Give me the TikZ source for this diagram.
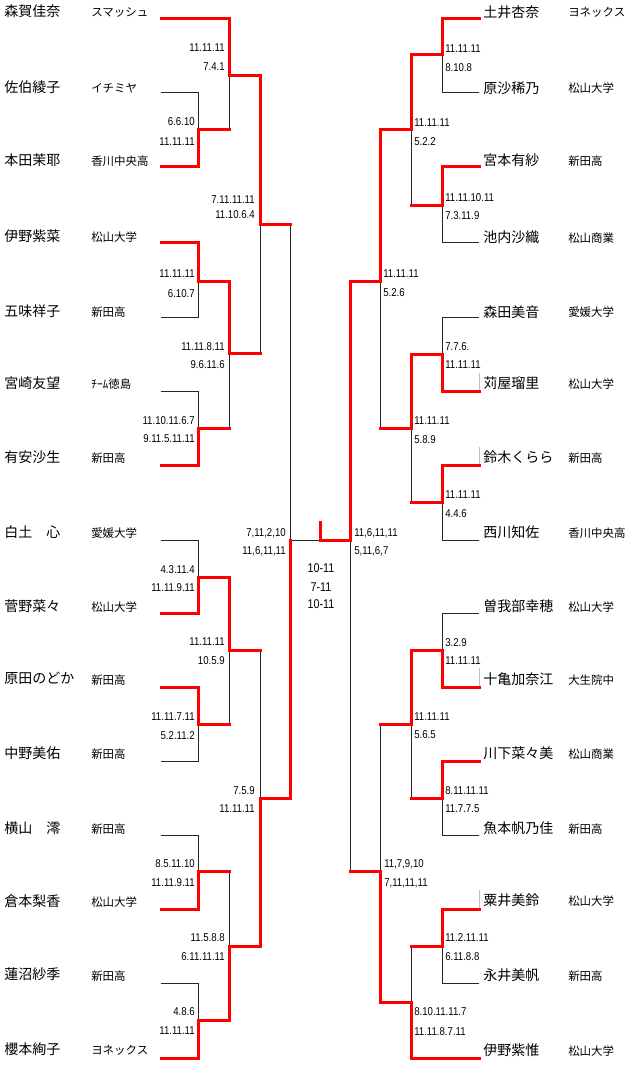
\documentclass[tikz,border=0pt]{standalone}
\usepackage{fontspec}
\newfontfamily\jpfont{Noto Sans CJK JP}
\newfontfamily\numfont[FakeStretch=0.85]{Liberation Sans}
\begin{document}
\begin{tikzpicture}[x=0.75pt,y=-0.75pt,
  pname/.style={font=\jpfont\fontsize{10.5}{12}\selectfont,anchor=west,inner sep=0pt,text height=8.4pt,text depth=0.5pt},
  pclub/.style={font=\jpfont\fontsize{8.6}{10}\selectfont,anchor=west,inner sep=0pt,text height=6.9pt,text depth=0.4pt},
  scl/.style={font=\numfont\fontsize{8.5}{10}\selectfont,anchor=east,inner sep=0pt,text height=6.1pt,text depth=0pt},
  scr/.style={font=\numfont\fontsize{8.5}{10}\selectfont,anchor=west,inner sep=0pt,text height=6.1pt,text depth=0pt},
  scc/.style={font=\numfont\fontsize{9.5}{11}\selectfont,anchor=center,inner sep=0pt,text height=6.8pt,text depth=0pt},
  lose/.style={draw=black!85,line width=0.75pt},
  win/.style={draw=red,line width=2.25pt,line join=miter,line cap=rect},
  artf/.style={draw=black!25,line width=0.5pt}]
\useasboundingbox (0,0) rectangle (640,1077);

% ---------- left players ----------
\node[pname] (nL0)  at (4,11)   {森賀佳奈};   \node[pclub] (cL0)  at (91,12)   {スマッシュ};
\node[pname] (nL1)  at (4,87)   {佐伯綾子};   \node[pclub] (cL1)  at (91,88)   {イチミヤ};
\node[pname] (nL2)  at (4,160)  {本田茉耶};   \node[pclub] (cL2)  at (91,161)  {香川中央高};
\node[pname] (nL3)  at (4,236)  {伊野紫菜};   \node[pclub] (cL3)  at (91,237)  {松山大学};
\node[pname] (nL4)  at (4,311)  {五味祥子};   \node[pclub] (cL4)  at (91,312)  {新田高};
\node[pname] (nL5)  at (4,383)  {宮崎友望};   \node[pclub] (cL5)  at (91,384)  {ﾁｰﾑ徳島};
\node[pname] (nL6)  at (4,457)  {有安沙生};   \node[pclub] (cL6)  at (91,458)  {新田高};
\node[pname] (nL7)  at (4,532)  {白土　心};   \node[pclub] (cL7)  at (91,533)  {愛媛大学};
\node[pname] (nL8)  at (4,606)  {菅野菜々};   \node[pclub] (cL8)  at (91,607)  {松山大学};
\node[pname] (nL9)  at (4,678)  {原田のどか}; \node[pclub] (cL9)  at (91,680)  {新田高};
\node[pname] (nL10) at (4,753)  {中野美佑};   \node[pclub] (cL10) at (91,754)  {新田高};
\node[pname] (nL11) at (4,828)  {横山　澪};   \node[pclub] (cL11) at (91,829)  {新田高};
\node[pname] (nL12) at (4,901)  {倉本梨香};   \node[pclub] (cL12) at (91,902)  {松山大学};
\node[pname] (nL13) at (4,974)  {蓮沼紗季};   \node[pclub] (cL13) at (91,976)  {新田高};
\node[pname] (nL14) at (4,1049) {櫻本絢子};   \node[pclub] (cL14) at (91,1050) {ヨネックス};

% ---------- right players ----------
\node[pname] (nR0)  at (483,12)   {土井杏奈};   \node[pclub] (cR0)  at (568,12)   {ヨネックス};
\node[pname] (nR1)  at (483,88)   {原沙稀乃};   \node[pclub] (cR1)  at (568,88)   {松山大学};
\node[pname] (nR2)  at (483,160)  {宮本有紗};   \node[pclub] (cR2)  at (568,161)  {新田高};
\node[pname] (nR3)  at (483,237)  {池内沙織};   \node[pclub] (cR3)  at (568,238)  {松山商業};
\node[pname] (nR4)  at (483,312)  {森田美音};   \node[pclub] (cR4)  at (568,312)  {愛媛大学};
\node[pname] (nR5)  at (483,383)  {苅屋瑠里};   \node[pclub] (cR5)  at (568,384)  {松山大学};
\node[pname] (nR6)  at (483,457)  {鈴木くらら}; \node[pclub] (cR6)  at (568,458)  {新田高};
\node[pname] (nR7)  at (483,532)  {西川知佐};   \node[pclub] (cR7)  at (568,533)  {香川中央高};
\node[pname] (nR8)  at (483,606)  {曽我部幸穂}; \node[pclub] (cR8)  at (568,607)  {松山大学};
\node[pname] (nR9)  at (483,679)  {十亀加奈江}; \node[pclub] (cR9)  at (568,680)  {大生院中};
\node[pname] (nR10) at (483,753)  {川下菜々美}; \node[pclub] (cR10) at (568,754)  {松山商業};
\node[pname] (nR11) at (483,828)  {魚本帆乃佳}; \node[pclub] (cR11) at (568,829)  {新田高};
\node[pname] (nR12) at (483,900)  {粟井美鈴};   \node[pclub] (cR12) at (568,901)  {松山大学};
\node[pname] (nR13) at (483,975)  {永井美帆};   \node[pclub] (cR13) at (568,976)  {新田高};
\node[pname] (nR14) at (483,1050) {伊野紫惟};   \node[pclub] (cR14) at (568,1051) {松山大学};

% ---------- line ends ----------
\foreach \i/\y in {0/19,1/93,2/167,3/242,4/317,5/391,6/465,7/540,8/613,9/687,10/761,11/835,12/909,13/983,14/1058}{
  \coordinate (aL\i) at (161,\y);
  \coordinate (aR\i) at (479,\y);
}
% ---------- junctions ----------
\coordinate (mL1) at (198,130);  \coordinate (mL2) at (229,76);
\coordinate (mL3) at (198,281);  \coordinate (mL4) at (198,428);
\coordinate (mL5) at (229,353);  \coordinate (mL6) at (260,224);
\coordinate (mL7) at (198,577);  \coordinate (mL8) at (198,724);
\coordinate (mL9) at (229,650);  \coordinate (mL10) at (198,871);
\coordinate (mL11) at (198,1020);\coordinate (mL12) at (229,946);
\coordinate (mL13) at (260,798); \coordinate (mSL) at (290,540);
\coordinate (mR1) at (442,55);   \coordinate (mR2) at (442,205);
\coordinate (mR3) at (411,130);  \coordinate (mR4) at (442,354);
\coordinate (mR5) at (442,502);  \coordinate (mR6) at (411,428);
\coordinate (mR7) at (380,281);  \coordinate (mR8) at (442,650);
\coordinate (mR9) at (442,798);  \coordinate (mR10) at (411,724);
\coordinate (mR11) at (442,946); \coordinate (mR12) at (411,1002);
\coordinate (mR13) at (380,871); \coordinate (mSR) at (350,540);
\coordinate (mFin) at (320,540); \coordinate (tick) at (320,522);

% ---------- full bracket (black) ----------
\draw[lose] (aL0) -| (mL2);
\draw[lose] (aL1) -| (mL1); \draw[lose] (aL2) -| (mL1);
\draw[lose] (mL1) -| (mL2);
\draw[lose] (aL3) -| (mL3); \draw[lose] (aL4) -| (mL3);
\draw[lose] (aL5) -| (mL4); \draw[lose] (aL6) -| (mL4);
\draw[lose] (mL3) -| (mL5); \draw[lose] (mL4) -| (mL5);
\draw[lose] (mL2) -| (mL6); \draw[lose] (mL5) -| (mL6);
\draw[lose] (mL6) -| (mSL);
\draw[lose] (aL7) -| (mL7); \draw[lose] (aL8) -| (mL7);
\draw[lose] (aL9) -| (mL8); \draw[lose] (aL10) -| (mL8);
\draw[lose] (mL7) -| (mL9); \draw[lose] (mL8) -| (mL9);
\draw[lose] (aL11) -| (mL10); \draw[lose] (aL12) -| (mL10);
\draw[lose] (aL13) -| (mL11); \draw[lose] (aL14) -| (mL11);
\draw[lose] (mL10) -| (mL12); \draw[lose] (mL11) -| (mL12);
\draw[lose] (mL9) -| (mL13); \draw[lose] (mL12) -| (mL13);
\draw[lose] (mL13) -| (mSL);
\draw[lose] (mSL) -- (mSR);
\draw[lose] (aR0) -| (mR1); \draw[lose] (aR1) -| (mR1);
\draw[lose] (aR2) -| (mR2); \draw[lose] (aR3) -| (mR2);
\draw[lose] (mR1) -| (mR3); \draw[lose] (mR2) -| (mR3);
\draw[lose] (aR4) -| (mR4); \draw[lose] (aR5) -| (mR4);
\draw[lose] (aR6) -| (mR5); \draw[lose] (aR7) -| (mR5);
\draw[lose] (mR4) -| (mR6); \draw[lose] (mR5) -| (mR6);
\draw[lose] (mR3) -| (mR7); \draw[lose] (mR6) -| (mR7);
\draw[lose] (mR7) -| (mSR);
\draw[lose] (aR8) -| (mR8); \draw[lose] (aR9) -| (mR8);
\draw[lose] (aR10) -| (mR9); \draw[lose] (aR11) -| (mR9);
\draw[lose] (mR8) -| (mR10); \draw[lose] (mR9) -| (mR10);
\draw[lose] (aR12) -| (mR11); \draw[lose] (aR13) -| (mR11);
\draw[lose] (mR11) -| (mR12); \draw[lose] (aR14) -| (mR12);
\draw[lose] (mR10) -| (mR13); \draw[lose] (mR12) -| (mR13);
\draw[lose] (mR13) -| (mSR);

% ---------- faint artefacts ----------
\draw[artf] (479,373) -- (479,391);
\draw[artf] (479,447) -- (479,465);
\draw[artf] (479,668) -- (479,687);
\draw[artf] (479,890) -- (479,909);

% ---------- winners (red) ----------
\draw[win] (aL0) -| (mL2) -| (mL6) -- (mL6 -| mSL);
\draw[win] (aL2) -| (mL1) -- (mL1 -| mL2);
\draw[win] (aL3) -| (mL3) -| (mL5) -- (mL5 -| mL6);
\draw[win] (aL6) -| (mL4) -- (mL4 -| mL5);
\draw[win] (aL8) -| (mL7) -| (mL9) -- (mL9 -| mL13);
\draw[win] (aL9) -| (mL8) -- (mL8 -| mL9);
\draw[win] (aL12) -| (mL10) -- (mL10 -| mL12);
\draw[win] (aL14) -| (mL11) -| (mL12) -| (mL13) -| (mSL);
\draw[win] (aR0) -| (mR1) -| (mR3) -| (mR7) -| (mSR) -- (mFin) -- (tick);
\draw[win] (aR2) -| (mR2) -- (mR2 -| mR3);
\draw[win] (aR5) -| (mR4) -| (mR6) -- (mR6 -| mR7);
\draw[win] (aR6) -| (mR5) -- (mR5 -| mR6);
\draw[win] (aR9) -| (mR8) -| (mR10) -- (mR10 -| mR13);
\draw[win] (aR10) -| (mR9) -- (mR9 -| mR10);
\draw[win] (aR12) -| (mR11) -- (mR11 -| mR12);
\draw[win] (aR14) -| (mR12) -| (mR13) -- (mR13 -| mSR);

% ---------- scores left ----------
\node[scl] (s1a) at (195,121) {6.6.10};      \node[scl] (s1b) at (195,141) {11.11.11};
\node[scl] (s2a) at (225,47)  {11.11.11};    \node[scl] (s2b) at (225,66)  {7.4.1};
\node[scl] (s3a) at (195,273) {11.11.11};    \node[scl] (s3b) at (195,293) {6.10.7};
\node[scl] (s4a) at (195,420) {11.10.11.6.7};\node[scl] (s4b) at (195,438) {9.11.5.11.11};
\node[scl] (s5a) at (225,346) {11.11.8.11};  \node[scl] (s5b) at (225,364) {9.6.11.6};
\node[scl] (s6a) at (255,199) {7.11.11.11};  \node[scl] (s6b) at (255,214) {11.10.6.4};
\node[scl] (s7a) at (195,569) {4.3.11.4};    \node[scl] (s7b) at (195,587) {11.11.9.11};
\node[scl] (s8a) at (195,716) {11.11.7.11};  \node[scl] (s8b) at (195,735) {5.2.11.2};
\node[scl] (s9a) at (225,641) {11.11.11};    \node[scl] (s9b) at (225,660) {10.5.9};
\node[scl] (s10a) at (195,863) {8.5.11.10};  \node[scl] (s10b) at (195,882) {11.11.9.11};
\node[scl] (s11a) at (195,1011) {4.8.6};     \node[scl] (s11b) at (195,1030) {11.11.11};
\node[scl] (s12a) at (225,937) {11.5.8.8};   \node[scl] (s12b) at (225,956) {6.11.11.11};
\node[scl] (s13a) at (255,790) {7.5.9};      \node[scl] (s13b) at (255,808) {11.11.11};
\node[scl] (sSLa) at (286,532) {7,11,2,10};  \node[scl] (sSLb) at (286,550) {11,6,11,11};
% ---------- final ----------
\node[scc] (f1) at (321,568) {10-11};
\node[scc] (f2) at (321,587) {7-11};
\node[scc] (f3) at (321,604) {10-11};
% ---------- scores right ----------
\node[scr] (r1a) at (445,48)  {11.11.11};    \node[scr] (r1b) at (445,67)  {8.10.8};
\node[scr] (r2a) at (445,197) {11.11.10.11}; \node[scr] (r2b) at (445,215) {7.3.11.9};
\node[scr] (r3a) at (414,122) {11.11.11};    \node[scr] (r3b) at (414,141) {5.2.2};
\node[scr] (r4a) at (445,346) {7.7.6.};      \node[scr] (r4b) at (445,364) {11.11.11};
\node[scr] (r5a) at (445,494) {11.11.11};    \node[scr] (r5b) at (445,513) {4.4.6};
\node[scr] (r6a) at (414,420) {11.11.11};    \node[scr] (r6b) at (414,439) {5.8.9};
\node[scr] (r7a) at (383,273) {11.11.11};    \node[scr] (r7b) at (383,292) {5.2.6};
\node[scr] (r8a) at (445,642) {3.2.9};       \node[scr] (r8b) at (445,660) {11.11.11};
\node[scr] (r9a) at (445,790) {8.11.11.11};  \node[scr] (r9b) at (445,808) {11.7.7.5};
\node[scr] (r10a) at (414,716) {11.11.11};   \node[scr] (r10b) at (414,734) {5.6.5};
\node[scr] (r11a) at (445,937) {11.2.11.11}; \node[scr] (r11b) at (445,956) {6.11.8.8};
\node[scr] (r12a) at (414,1011) {8.10.11.11.7};\node[scr] (r12b) at (414,1031) {11.11.8.7.11};
\node[scr] (r13a) at (384,863) {11,7,9,10};  \node[scr] (r13b) at (384,882) {7,11,11,11};
\node[scr] (sSRa) at (354,532) {11,6,11,11}; \node[scr] (sSRb) at (354,550) {5,11,6,7};
\end{tikzpicture}
\end{document}
